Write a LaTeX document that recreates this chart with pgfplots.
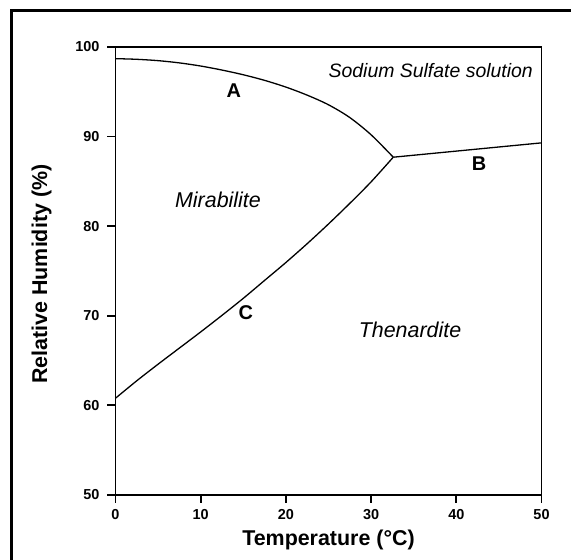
\documentclass[border=0pt]{standalone}
\usepackage{fontspec}
\setmainfont{Liberation Sans}
\usepackage{pgfplots}
\pgfplotsset{compat=1.18}
\begin{document}
\begin{tikzpicture}[x=1bp,y=1bp]
\path[use as bounding box] (-115.5,-65) rectangle (455.5,495);
\begin{scope}
\clip (-115.5,-65) rectangle (455.5,495);
\draw[line width=3bp] (-103.5,-200) -- (-103.5,484.5) -- (600,484.5);
\end{scope}
\begin{axis}[at={(0,0)}, anchor=south west, scale only axis,
  width=426bp, height=448bp,
  xmin=0, xmax=50, ymin=50, ymax=100,
  xtick={0,10,...,50}, ytick={50,60,...,100},
  tick align=outside, xtick pos=bottom, ytick pos=left,
  major tick length=8bp,
  axis line style={line width=1.8bp},
  tick style={line width=1.8bp, black},
  /pgf/number format/assume math mode=true,
  tick label style={font=\fontsize{14.5}{16}\selectfont\bfseries},
  xticklabel style={yshift=-2.5bp},
  yticklabel style={xshift=-4.5bp},
  xlabel={Temperature (°C)}, ylabel={Relative Humidity (\%)},
  label style={font=\fontsize{21.5}{24}\selectfont\bfseries},
  xlabel style={at={(axis description cs:0.5,-0.1004)}, anchor=center},
  ylabel style={at={(axis description cs:-0.1737,0.493)}, anchor=center},
  clip=false]
\addplot[line width=1.3bp, black, smooth, mark=none] coordinates {
(0,98.7) (2.5,98.625) (5,98.475) (7.5,98.225) (10,97.875) (12.5,97.425) (15,96.9) (17.5,96.275) (20,95.525) (22.5,94.625) (25,93.55) (27.5,92.125) (30,90.2) (32.6,87.7)};
\addplot[line width=1.3bp, black, mark=none] coordinates {(32.6,87.7) (50,89.3)};
\addplot[line width=1.3bp, black, smooth, mark=none] coordinates {
(0,60.8) (2.5,62.75) (5,64.6) (7.5,66.4) (10,68.2) (12.5,70.05) (15,71.95) (17.5,73.95) (20,75.95) (22.5,78.05) (25,80.25) (27.5,82.55) (30,84.95) (32.6,87.7)};
\node[inner sep=0, anchor=center, font=\fontsize{21.5}{24}\selectfont\itshape] at (axis cs:12.03,82.9) {Mirabilite};
\node[inner sep=0, anchor=center, font=\fontsize{21.5}{24}\selectfont\itshape] at (axis cs:34.57,68.4) {Thenardite};
\node[inner sep=0, anchor=base east, font=\fontsize{19.5}{22}\selectfont\itshape] at (axis cs:49.0,96.63) {Sodium Sulfate solution};
\node[inner sep=0, anchor=center, font=\fontsize{20}{22}\selectfont\bfseries] at (axis cs:13.9,95.15) {A};
\node[inner sep=0, anchor=center, font=\fontsize{20}{22}\selectfont\bfseries] at (axis cs:42.66,86.98) {B};
\node[inner sep=0, anchor=center, font=\fontsize{20}{22}\selectfont\bfseries] at (axis cs:15.3,70.3) {C};
\end{axis}
\end{tikzpicture}
\end{document}
